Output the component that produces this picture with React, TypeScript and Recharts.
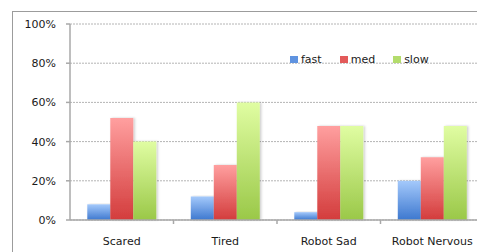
import React from "react";
import { Bar, BarChart, CartesianGrid, Legend, XAxis, YAxis } from "recharts";

const categories = ["Scared", "Tired", "Robot Sad", "Robot Nervous"];
const fast = [8, 12, 4, 20];
const med = [52, 28, 48, 32];
const slow = [40, 60, 48, 48];
const yTicks = [0, 20, 40, 60, 80, 100];

const data = categories.map((name, i) => ({
    name,
    fast: fast[i],
    med: med[i],
    slow: slow[i],
}));

const FONT = "DejaVu Sans, sans-serif";
const FONT_SIZE = 11;
const AXIS = "#a8a8a8";
const TICK = 4;
const TICK_GAP = 13;

const series = [
    { key: "fast", top: "#a4c9fb", bottom: "#3d78cf", swatch: "#5f93e0" },
    { key: "med", top: "#ff9f9f", bottom: "#d33c3c", swatch: "#e35a5a" },
    { key: "slow", top: "#e0fda2", bottom: "#9ac848", swatch: "#b3dc6c" },
];

// category tick: label in the middle, tick mark at the band's right edge
const CategoryTick = (props: any) => {
    const { x, y, payload } = props;
    const edge = x + (payload.offset || 0);
    const axisY = y - TICK - TICK_GAP;
    return (
        <g>
            <line x1={edge} x2={edge} y1={axisY} y2={axisY + TICK} stroke={AXIS} strokeWidth={1.5} />
            <text x={x} y={y} dy="0.71em" textAnchor="middle" fontSize={FONT_SIZE} fontFamily={FONT} fill="#1a1a1a">
                {payload.value}
            </text>
        </g>
    );
};

const LegendContent = () => (
    <div style={{ display: "flex", alignItems: "center", fontFamily: FONT, fontSize: FONT_SIZE, color: "#1a1a1a", whiteSpace: "nowrap" }}>
        {series.map((s) => (
            <div key={s.key} style={{ display: "flex", alignItems: "center", marginRight: 18 }}>
                <span style={{ width: 8, height: 7, background: s.swatch, marginRight: 3, display: "inline-block" }} />
                <span>{s.key}</span>
            </div>
        ))}
    </div>
);

export default function App() {
    return (
        <div style={{ position: "fixed", left: 0, top: 0, width: 477, height: 252, overflow: "hidden", background: "#fff" }}>
            <div
                style={{
                    position: "absolute",
                    left: 12,
                    top: 11,
                    width: 500,
                    height: 300,
                    borderLeft: "1px solid #9c9c9c",
                    borderTop: "1px solid #9c9c9c",
                }}
            />
            <div style={{ position: "absolute", left: 0, top: 0 }}>
                <BarChart
                    width={500}
                    height={252}
                    data={data}
                    margin={{ top: 24, right: 16, left: 0, bottom: 0 }}
                    barCategoryGap="16.7%"
                    barGap={0}
                >
                    <defs>
                        {series.map((s) => (
                            <linearGradient key={s.key} id={"grad-" + s.key} x1="0" y1="0" x2="0" y2="1">
                                <stop offset="0%" stopColor={s.top} />
                                <stop offset="100%" stopColor={s.bottom} />
                            </linearGradient>
                        ))}
                        <filter id="barShadow" x="-20%" y="-5%" width="150%" height="110%">
                            <feDropShadow dx={1.5} dy={0} stdDeviation={0.8} floodColor="#000" floodOpacity={0.2} />
                        </filter>
                    </defs>
                    <CartesianGrid vertical={false} stroke="#b4b4b4" strokeDasharray="2 1" />
                    <XAxis
                        dataKey="name"
                        height={32}
                        axisLine={{ stroke: AXIS, strokeWidth: 1.5 }}
                        tickLine={false}
                        tickSize={TICK}
                        tickMargin={TICK_GAP}
                        tick={<CategoryTick />}
                        interval={0}
                    />
                    <YAxis
                        width={70}
                        domain={[0, 100]}
                        ticks={yTicks}
                        tickFormatter={(v) => v + "%"}
                        axisLine={{ stroke: AXIS, strokeWidth: 1.5 }}
                        tickLine={{ stroke: AXIS, strokeWidth: 1.5 }}
                        tickSize={TICK}
                        tickMargin={10}
                        tick={{ fontSize: FONT_SIZE, fontFamily: FONT, fill: "#1a1a1a" }}
                    />
                    <Legend
                        layout="horizontal"
                        verticalAlign="middle"
                        align="center"
                        wrapperStyle={{ top: 53, left: 290, width: "auto" }}
                        content={<LegendContent />}
                    />
                    {series.map((s) => (
                        <Bar
                            key={s.key}
                            dataKey={s.key}
                            fill={"url(#grad-" + s.key + ")"}
                            filter="url(#barShadow)"
                            isAnimationActive={false}
                        />
                    ))}
                </BarChart>
            </div>
        </div>
    );
}
